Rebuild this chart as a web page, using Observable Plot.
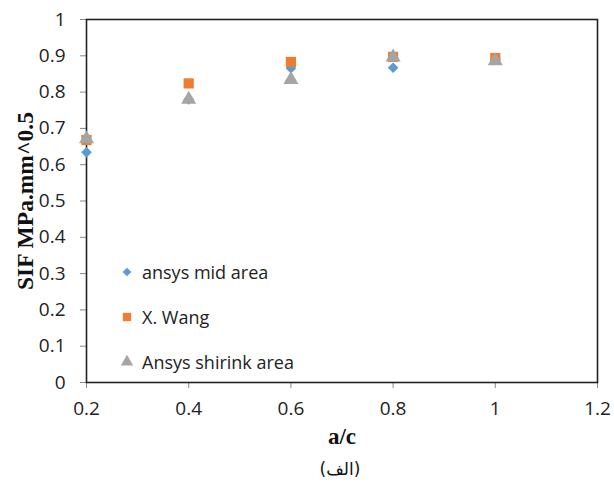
<!DOCTYPE html>
<html>
<head>
<meta charset="utf-8">
<script src="https://cdn.jsdelivr.net/npm/d3@7"></script>
<script src="https://cdn.jsdelivr.net/npm/@observablehq/plot@0.6"></script>
<style>
  body { margin: 0; background: #fff; }
  #wrap { position: relative; width: 614px; height: 491px; background: #fff; }
  #legend { position: absolute; left: 118px; top: 249px; font-family: "Open Sans", sans-serif; font-size: 18px; color: #222; }
  #legend .row { display: flex; align-items: center; height: 45px; }
  #legend svg { width: 18px; height: 16px; margin-right: 6px; }
  #caption { position: absolute; left: 0; width: 680px; top: 459px; text-align: center; font-family: "DejaVu Sans", sans-serif; font-size: 17px; color: #111; }
</style>
</head>
<body>
<div id="wrap">
  <div id="chart"></div>
  <div id="legend"></div>
  <div id="caption">(الف)</div>
</div>
<script>
const xValues = [0.2, 0.4, 0.6, 0.8, 1.0];
const midArea = [0.634, 0.78, 0.866, 0.867, 0.889];
const wang = [0.668, 0.824, 0.883, 0.897, 0.894];
const shrink = [0.671, 0.78, 0.834, 0.896, 0.886];
const seriesNames = ["ansys mid area", "X. Wang", "Ansys shirink area"];
const seriesColors = ["#5B9BD5", "#ED7D31", "#A5A5A5"];
const seriesSymbols = ["diamond2", "square2", "triangle2"];
const seriesSizes = [4.8, 6.5, 7.2];
const xTicks = [0.2, 0.4, 0.6, 0.8, 1.0, 1.2];
const xTickLabels = ["0.2", "0.4", "0.6", "0.8", "1", "1.2"];
const yTicks = [0, 0.1, 0.2, 0.3, 0.4, 0.5, 0.6, 0.7, 0.8, 0.9, 1];
const yTickLabels = ["0", "0.1", "0.2", "0.3", "0.4", "0.5", "0.6", "0.7", "0.8", "0.9", "1"];

const allSeries = [midArea, wang, shrink];
const rows = [];
allSeries.forEach((vals, si) => vals.forEach((v, i) => rows.push({x: xValues[i], y: v, s: si})));

const tickFont = {fontFamily: "Open Sans, sans-serif", fontSize: 19, fill: "#222"};

const chart = Plot.plot({
  width: 614,
  height: 455,
  marginTop: 19,
  marginBottom: 73,
  marginLeft: 86,
  marginRight: 17,
  x: {domain: [0.2, 1.2]},
  y: {domain: [0, 1]},
  style: {background: "#fff", overflow: "visible"},
  marks: [
    Plot.axisX({ticks: xTicks, tickFormat: (d) => xTickLabels[xTicks.findIndex(t => Math.abs(t - d) < 1e-9)], tickSize: 6, tickPadding: 13, stroke: "#888", ...tickFont, label: null}),
    Plot.axisY({ticks: yTicks, tickFormat: (d) => yTickLabels[yTicks.findIndex(t => Math.abs(t - d) < 1e-9)], tickSize: 6, tickPadding: 15, stroke: "#888", ...tickFont, label: null}),
    Plot.frame({stroke: "#222", strokeWidth: 1.6}),
    ...[0, 1, 2].map(si => Plot.dot(rows.filter(r => r.s === si), {
      x: "x", y: "y", symbol: () => seriesSymbols[si], r: seriesSizes[si],
      fill: seriesColors[si], stroke: "none"
    })),
    Plot.text(["a/c"], {frameAnchor: "bottom", dy: 54, fontFamily: "Liberation Serif, serif", fontWeight: "bold", fontSize: 23, fill: "#111", lineAnchor: "middle"}),
    Plot.text(["SIF MPa.mm^0.5"], {frameAnchor: "left", dx: -61, rotate: -90, textAnchor: "middle", fontFamily: "Liberation Serif, serif", fontWeight: "bold", fontSize: 23.5, fill: "#111"})
  ]
});
document.getElementById("chart").appendChild(chart);

// legend
const leg = document.getElementById("legend");
seriesNames.forEach((name, i) => {
  const row = document.createElement("div");
  row.className = "row";
  const sym = d3.symbol(d3[{"diamond2": "symbolDiamond2", "square2": "symbolSquare2", "triangle2": "symbolTriangle2"}[seriesSymbols[i]]], Math.PI * (seriesSizes[i] * 0.82) ** 2)();
  row.innerHTML = `<svg viewBox="-9 -8 18 16"><path d="${sym}" fill="${seriesColors[i]}"></path></svg><span>${name}</span>`;
  leg.appendChild(row);
});
</script>
</body>
</html>
